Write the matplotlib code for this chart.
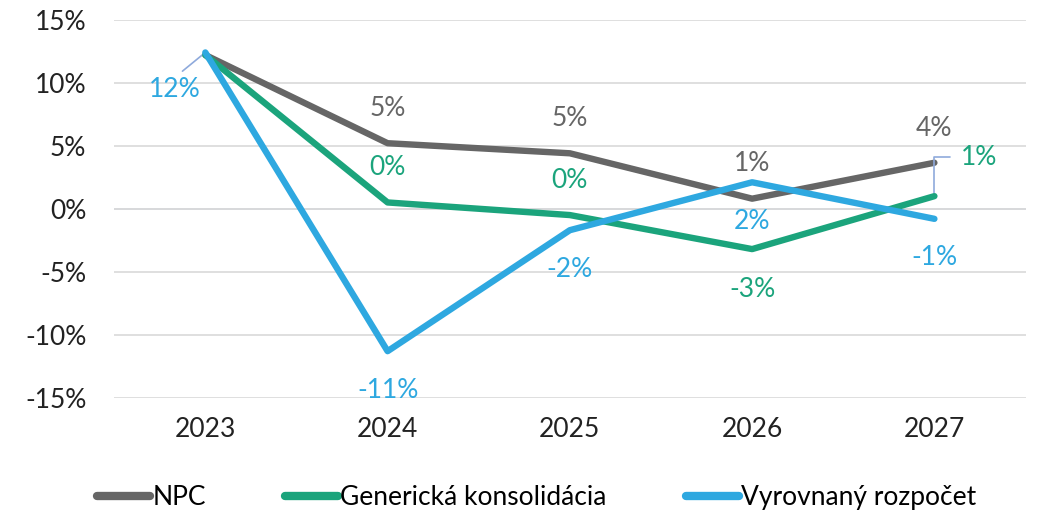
import matplotlib.pyplot as plt
import matplotlib.ticker as mticker

# Data
years = ["2023", "2024", "2025", "2026", "2027"]
npc = [12.2, 5.2, 4.4, 0.8, 3.65]
generic = [12.2, 0.5, -0.5, -3.2, 1.0]
balanced = [12.4, -11.3, -1.7, 2.1, -0.8]

npc_labels = ["", "5%", "5%", "1%", "4%"]
generic_labels = ["", "0%", "0%", "-3%", "1%"]
balanced_labels = ["12%", "-11%", "-2%", "2%", "-1%"]

series_names = ["NPC", "Generická konsolidácia", "Vyrovnaný rozpočet"]

c_gray = "#666666"
c_green = "#1ba47c"
c_blue = "#2ea8e0"
c_leader = "#8faadc"

plt.rcParams['font.family'] = ['Lato', 'DejaVu Sans']

fig = plt.figure(figsize=(10.38, 5.18), dpi=100)
ax = fig.add_axes([0.110, 0.232, 0.878, 0.730])

x = list(range(len(years)))
ax.plot(x, npc, color=c_gray, lw=4.6, solid_capstyle='round', label=series_names[0], zorder=3)
ax.plot(x, generic, color=c_green, lw=4.6, solid_capstyle='round', label=series_names[1], zorder=4)
ax.plot(x, balanced, color=c_blue, lw=4.6, solid_capstyle='round', label=series_names[2], zorder=5)

ax.set_xlim(-0.5, 4.5)
ax.set_ylim(-15, 15)
ax.yaxis.set_major_locator(mticker.MultipleLocator(5))
ax.yaxis.set_major_formatter(mticker.FuncFormatter(lambda v, _: f"{v:.0f}%"))
ax.set_xticks(x)
ax.set_xticklabels(years)
ax.tick_params(axis='both', length=0, labelsize=19, colors="#222222")
ax.tick_params(axis='x', pad=14)
ax.tick_params(axis='y', pad=20)
ax.grid(axis='y', color="#d9d9d9", lw=1.2)
ax.axhline(0, color="#cfd8e6", lw=1.2, zorder=1)
for s in ax.spines.values():
    s.set_visible(False)

fs = 19
# NPC labels above
for i in range(1, 5):
    ax.annotate(npc_labels[i], (x[i], npc[i]), xytext=(0, 25), textcoords='offset points',
                ha='center', va='center', fontsize=fs, color=c_gray)
# Generic labels
for i in range(1, 4):
    off = -29 if generic[i] < -1 else 25
    ax.annotate(generic_labels[i], (x[i], generic[i]), xytext=(0, off), textcoords='offset points',
                ha='center', va='center', fontsize=fs, color=c_green)
ax.annotate(generic_labels[4], (x[4], generic[4]), xytext=(32, 28), textcoords='offset points',
            ha='center', va='center', fontsize=fs, color=c_green,
            arrowprops=dict(arrowstyle='-', color=c_leader, lw=1.2, relpos=(0, 0.5),
                            connectionstyle='angle,angleA=0,angleB=90,rad=0',
                            shrinkA=6, shrinkB=2))
# Balanced labels
ax.annotate(balanced_labels[0], (x[0], balanced[0]), xytext=(-22, -27), textcoords='offset points',
            ha='center', va='center', fontsize=fs, color=c_blue,
            arrowprops=dict(arrowstyle='-', color=c_leader, lw=1.2, relpos=(0.5, 1),
                            shrinkA=4, shrinkB=0))
for i in range(1, 5):
    ax.annotate(balanced_labels[i], (x[i], balanced[i]), xytext=(0, -28), textcoords='offset points',
                ha='center', va='center', fontsize=fs, color=c_blue)

leg = fig.legend(loc='lower center', bbox_to_anchor=(0.517, -0.03), ncol=3, frameon=False,
                 fontsize=19, handlelength=2.0, handletextpad=0.1, columnspacing=3.0)
for line in leg.get_lines():
    line.set_linewidth(6)
    line.set_solid_capstyle('round')

fig.savefig("out.png", dpi=100)
